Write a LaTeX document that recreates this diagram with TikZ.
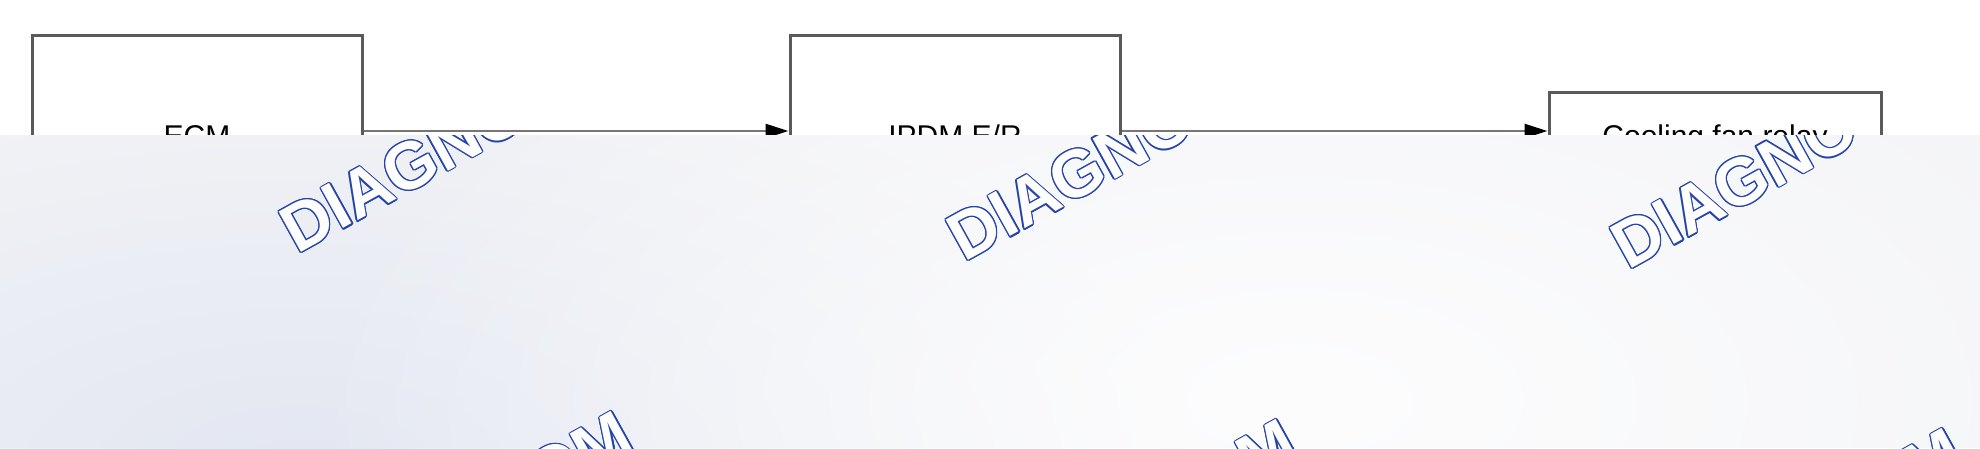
\documentclass[tikz,border=0pt]{standalone}
\usepackage{fontspec}
\setmainfont{Liberation Sans}
\usetikzlibrary{arrows.meta,calc,fadings}
\definecolor{boxline}{HTML}{5A5A5A}
\definecolor{arrline}{HTML}{767676}
\definecolor{veil}{HTML}{F3F4F6}
\definecolor{veilblue}{HTML}{E3E7F2}
\definecolor{veilwhite}{HTML}{FDFDFE}
\definecolor{wmblue}{RGB}{36,68,170}
\tikzfading[name=blobfade, inner color=transparent!0, outer color=transparent!100]
\newcommand\wmark[4]{%
  \foreach \ang [count=\k] in {0,30,...,330}{
    \node[wmtext, text=wmblue, anchor=#3, rotate=29] (#1o\k) at ($(#2)+(\ang:1.3pt)$) {#4};
  }
  \node[wmtext, text=white, anchor=#3, rotate=29] (#1) at (#2) {#4};
}
\begin{document}
\begin{tikzpicture}[x=1pt,y=-1pt,
  box/.style={draw=boxline, line width=3pt, fill=white, minimum width=330pt,
    inner sep=0pt, font=\fontsize{30}{36}\selectfont, text height=22pt, text depth=0pt},
  flow/.style={draw=arrline, line width=2.6pt, -{Triangle[length=23pt,width=14pt,color=black]}},
  wmtext/.style={inner sep=0pt, outer sep=0pt, font=\fontsize{67}{80}\selectfont\bfseries}]
\useasboundingbox (0,0) rectangle (1980,448);
\fill[white] (0,0) rectangle (1980,448);
% blocks
\node[box, minimum height=201pt] (ecm) at (197,135.5) {ECM};
\node[box, minimum height=201pt] (ipdm) at (955,135.5) {IPDM E/R};
\node[box, minimum width=332pt, minimum height=87pt] (fan) at (1715,135.5) {Cooling fan relay};
\draw[flow] ([yshift=4.5pt]ecm.east) -- ([yshift=4.5pt]ipdm.west);
\draw[flow] ([yshift=4.5pt]ipdm.east) -- ([yshift=4.5pt]fan.west);
% veil
\begin{scope}
  \clip (0,135) rectangle (1980,448);
  \fill[veil] (0,135) rectangle (1980,448);
  \fill[veilblue, path fading=blobfade] (300,470) ellipse [x radius=900, y radius=420];
  \fill[veilwhite, path fading=blobfade] (1300,400) ellipse [x radius=1000, y radius=500];
  \wmark{wa}{297.6,254.4}{base west}{DIAGNO}
  \wmark{wb}{964.6,262.4}{base west}{DIAGNO}
  \wmark{wc}{1628.6,270.4}{base west}{DIAGNO}
  \wmark{wd}{637.7,449.6}{base east}{OM}
  \wmark{we}{1302.7,457.6}{base east}{OM}
  \wmark{wf}{1968.7,466.6}{base east}{OM}
\end{scope}
\end{tikzpicture}
\end{document}
